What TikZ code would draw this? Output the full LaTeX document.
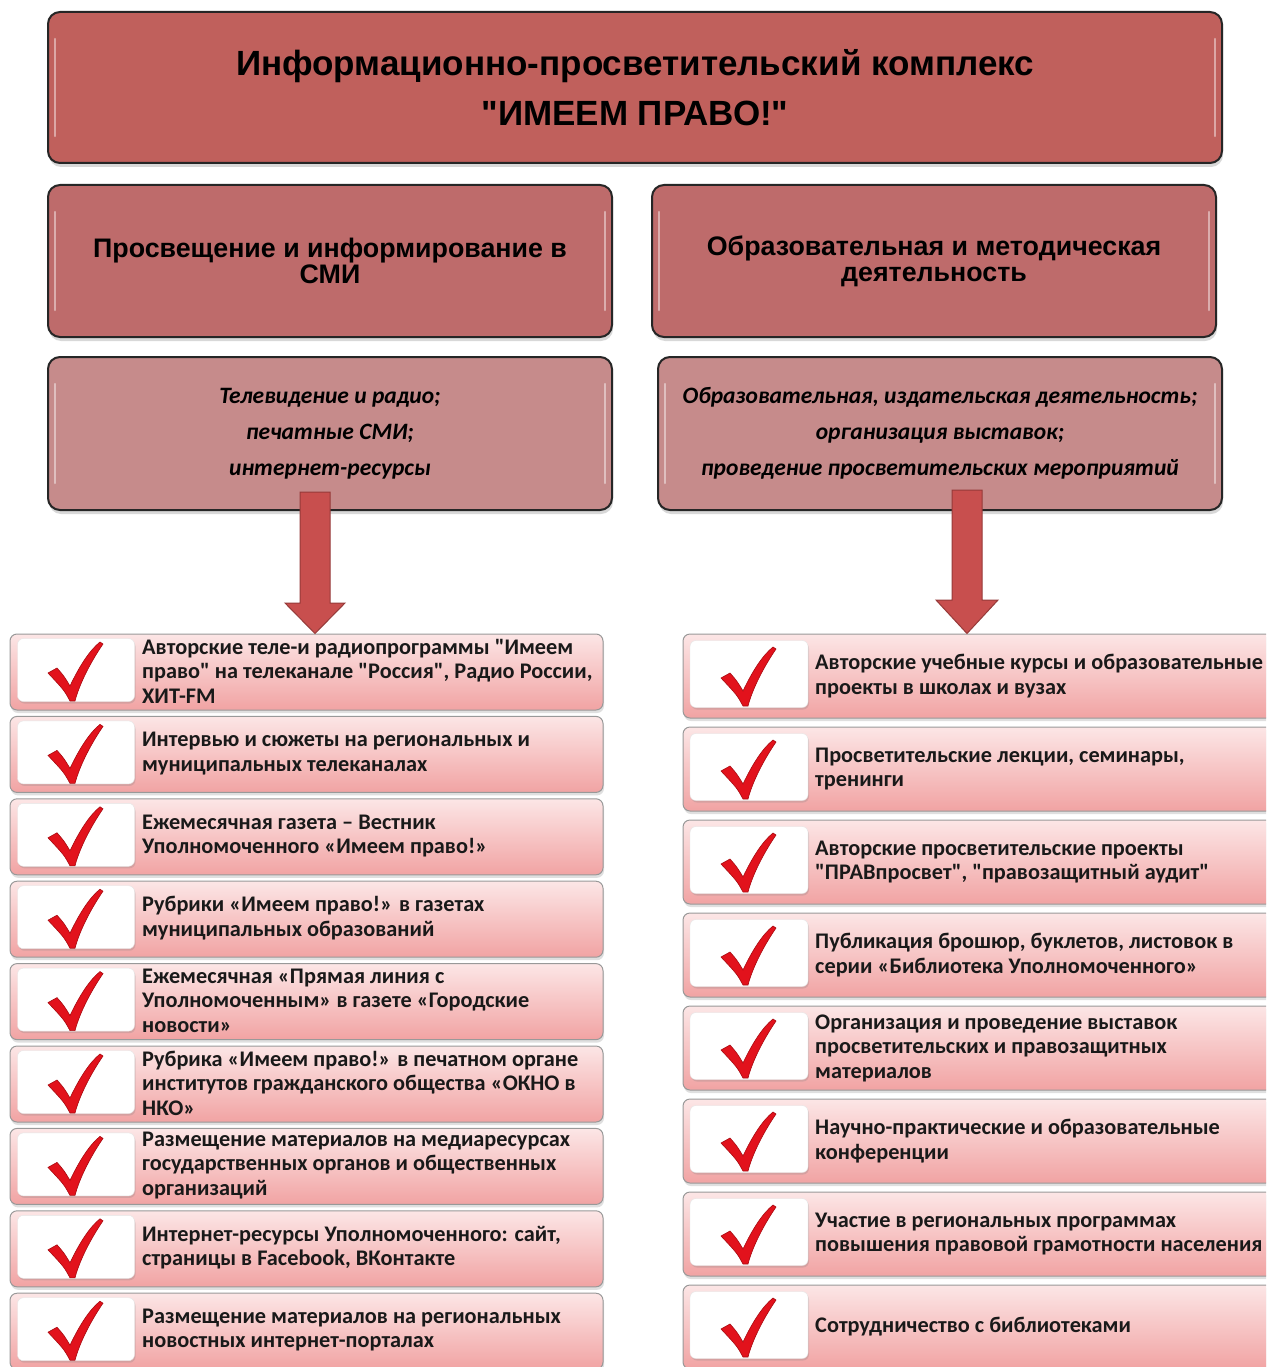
\documentclass[tikz,border=0pt]{standalone}
\usepackage{fontspec}
\setmainfont{Carlito}
\newfontfamily\arialf{Liberation Sans}
\usetikzlibrary{shadows,calc}
\newcommand\qd{\textquotedbl{}}
\definecolor{topfill}{HTML}{C0605C}
\definecolor{midfill}{HTML}{BE6B6B}
\definecolor{lowfill}{HTML}{C68B8B}
\definecolor{itemtop}{HTML}{FCE6E6}
\definecolor{itembot}{HTML}{F1A3A3}
\definecolor{arrowfill}{HTML}{C84F4E}
\definecolor{arrowedge}{HTML}{963A39}
\definecolor{chkred}{HTML}{E2121C}
\definecolor{chkdark}{HTML}{A80A10}
\tikzset{
  hbox/.style={draw=black!85, line width=2pt, rounded corners=12pt, inner sep=0pt,
    drop shadow={shadow xshift=1pt,shadow yshift=-4pt,opacity=0.3}},
  itembox/.style={draw=black!40, line width=1pt, rounded corners=7pt, inner sep=0pt,
    top color=itemtop, bottom color=itembot,
    drop shadow={shadow xshift=1pt,shadow yshift=-3pt,opacity=0.25}},
  chkbox/.style={fill=white, draw=black!10, rounded corners=6pt, inner sep=0pt,
    drop shadow={shadow xshift=1pt,shadow yshift=-2pt,opacity=0.25}},
  itemtext/.style={anchor=west, align=left, inner sep=0pt,
    font=\bfseries\fontsize{22.3}{24.5}\selectfont, text=black!90},
  gloss/.style={white, opacity=0.45, line width=2.5pt, line cap=round},
  bigarrow/.style={fill=arrowfill, draw=arrowedge, line width=1pt, line join=miter},
  chk/.pic={
    \fill[chkred, draw=chkdark, line width=0.6pt]
      (-24,-27) -- (-15,-32) .. controls (-8,-24) .. (-2,-14)
      .. controls (8,-35) and (18,-50) .. (28,-58) -- (31,-56)
      .. controls (20,-40) and (8,-18) .. (3,1) -- (-2,1)
      .. controls (-8,-10) .. (-24,-27) -- cycle;
  }
}
\begin{document}
\begin{tikzpicture}[x=1pt,y=-1pt]
\clip (0,0) rectangle (1266,1367);
\fill[white] (0,0) rectangle (1266,1367);

% top box
\node[hbox, fill=topfill, minimum width=1174pt, minimum height=151pt, align=center,
  font=\arialf\bfseries\fontsize{35}{50}\selectfont] (top) at (635,87.5)
  {Информационно-просветительский комплекс\\\qd ИМЕЕМ ПРАВО!\qd};
\draw[gloss] ($(top.north west)+(8,28)$) -- ($(top.south west)+(8,-28)$);
\draw[gloss] ($(top.north east)+(-8,28)$) -- ($(top.south east)+(-8,-28)$);

% level 2
\node[hbox, fill=midfill, minimum width=564pt, minimum height=152pt, align=center,
  font=\arialf\bfseries\fontsize{26.8}{26}\selectfont] (b2l) at (330,261)
  {Просвещение и информирование в\\СМИ};
\node[hbox, fill=midfill, minimum width=564pt, minimum height=152pt, align=center,
  font=\arialf\bfseries\fontsize{26.8}{26}\selectfont] (b2r) at (934,261)
  {Образовательная и методическая\\деятельность};
\foreach \b in {b2l,b2r}{
  \draw[gloss] ($(\b.north west)+(8,28)$) -- ($(\b.south west)+(8,-28)$);
  \draw[gloss] ($(\b.north east)+(-8,28)$) -- ($(\b.south east)+(-8,-28)$);
}

% level 3
\node[hbox, fill=lowfill, minimum width=564pt, minimum height=153pt, align=center,
  font=\bfseries\itshape\fontsize{23.5}{36}\selectfont] (b3l) at (330,433.5)
  {Телевидение и радио;\\печатные СМИ;\\интернет-ресурсы};
\node[hbox, fill=lowfill, minimum width=564pt, minimum height=153pt, align=center,
  font=\bfseries\itshape\fontsize{23.5}{36}\selectfont] (b3r) at (940,433.5)
  {Образовательная, издательская деятельность;\\организация выставок;\\проведение просветительских мероприятий};
\foreach \b in {b3l,b3r}{
  \draw[gloss] ($(\b.north west)+(8,28)$) -- ($(\b.south west)+(8,-28)$);
  \draw[gloss] ($(\b.north east)+(-8,28)$) -- ($(\b.south east)+(-8,-28)$);
}

% left list
\foreach \t [count=\i from 0] in {
  {Авторские теле-и радиопрограммы \qd Имеем\\право\qd{} на телеканале \qd Россия\qd, Радио России,\\ХИТ-FM},
  {Интервью и сюжеты на региональных и\\муниципальных телеканалах},
  {Ежемесячная газета – Вестник\\Уполномоченного «Имеем право!»},
  {Рубрики «Имеем право!» в газетах\\муниципальных образований},
  {Ежемесячная «Прямая линия с\\Уполномоченным» в газете «Городские\\новости»},
  {Рубрика «Имеем право!» в печатном органе\\институтов гражданского общества «ОКНО в\\НКО»},
  {Размещение материалов на медиаресурсах\\государственных органов и общественных\\организаций},
  {Интернет-ресурсы Уполномоченного: сайт,\\страницы в Facebook, ВКонтакте},
  {Размещение материалов на региональных\\новостных интернет-порталах}}{
  \pgfmathsetmacro{\cy}{672+82.4*\i}
  \node[itembox, minimum width=593pt, minimum height=76pt] (l\i) at (306.5,\cy) {};
  \node[chkbox, minimum width=117pt, minimum height=63pt] (lc\i) at (76,\cy-2) {};
  \pic at (72,\cy+28) {chk};
  \node[itemtext] (lt\i) at (142,\cy-1) {\t};
}

% right list
\foreach \t [count=\i from 0] in {
  {Авторские учебные курсы и образовательные\\проекты в школах и вузах},
  {Просветительские лекции, семинары,\\тренинги},
  {Авторские просветительские проекты\\\qd ПРАВпросвет\qd, \qd правозащитный аудит\qd},
  {Публикация брошюр, буклетов, листовок в\\серии «Библиотека Уполномоченного»},
  {Организация и проведение выставок\\просветительских и правозащитных\\материалов},
  {Научно-практические и образовательные\\конференции},
  {Участие в региональных программах\\повышения правовой грамотности населения},
  {Сотрудничество с библиотеками}}{
  \pgfmathsetmacro{\cy}{676+93*\i}
  \node[itembox, minimum width=600pt, minimum height=84pt] (r\i) at (983,\cy) {};
  \node[chkbox, minimum width=118pt, minimum height=67pt] (rc\i) at (749,\cy-2) {};
  \pic at (745,\cy+29) {chk};
  \node[itemtext] (rt\i) at (815,\cy) {\t};
}

% arrows
\coordinate (al) at (315,492);
\coordinate (ar) at (967,490);
\draw[bigarrow] ($(al)+(-15,0)$) -- ($(al)+(15,0)$) -- ($(al)+(15,111)$) -- ($(al)+(30,111)$)
  -- (al |- l0.north) -- ($(al)+(-30,111)$) -- ($(al)+(-15,111)$) -- cycle;
\draw[bigarrow] ($(ar)+(-15,0)$) -- ($(ar)+(15,0)$) -- ($(ar)+(15,110)$) -- ($(ar)+(31,110)$)
  -- (ar |- r0.north) -- ($(ar)+(-31,110)$) -- ($(ar)+(-15,110)$) -- cycle;
\end{tikzpicture}
\end{document}
